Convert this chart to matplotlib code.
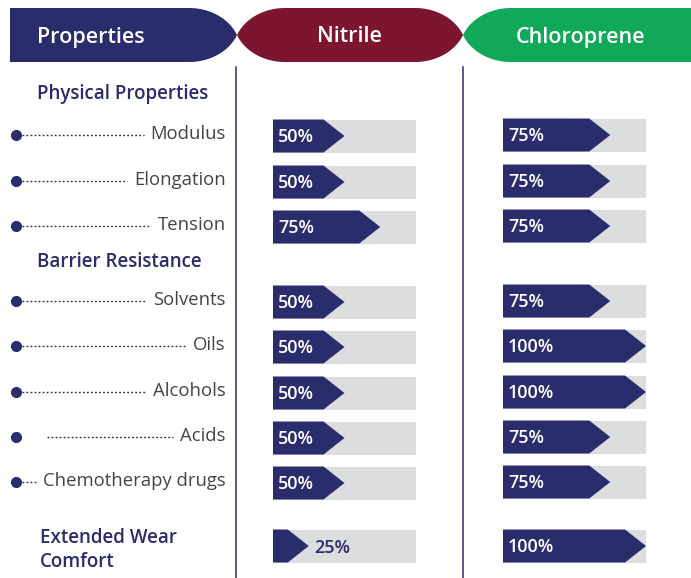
# Nitrile vs Chloroprene property comparison

import numpy as np
import matplotlib.pyplot as plt
from matplotlib.patches import Polygon, Rectangle

plt.rcParams['font.family'] = ['Open Sans', 'DejaVu Sans']

# data
properties = ['Modulus', 'Elongation', 'Tension', 'Solvents', 'Oils',
              'Alcohols', 'Acids', 'Chemotherapy drugs', 'Extended Wear\nComfort']
nitrile = [50, 50, 75, 50, 50, 50, 50, 50, 25]
chloroprene = [75, 75, 75, 75, 100, 100, 75, 75, 100]
section_titles = ['Physical Properties', 'Barrier Resistance']
headers = ['Properties', 'Nitrile', 'Chloroprene']

# layout (pixel units)
row_y = [135, 181, 226, 301, 346, 392, 437, 482, 550]
section_y = [94, 262]
leader_start = [22, 22, 22, 22, 22, 22, 47, 22]
bar_left = [273, 503]
bar_w = 143
bar_h = 33
tip = 21

navy = '#2a2d6b'
maroon = '#7b1530'
green = '#11a85a'
gray = '#dcdddf'
txt = '#444444'

fig = plt.figure(figsize=(6.91, 5.78), dpi=100)
ax = fig.add_axes([0, 0, 1, 1])
ax.set_xlim(0, 691)
ax.set_ylim(578, 0)
ax.axis('off')


# header banners
def edge(x_flat, x_pt, top, mid, n=40):
    t = np.linspace(0, 1, n)
    a = 0.93
    off = (np.sqrt(1 - (a * t) ** 2) - np.sqrt(1 - a ** 2)) / (1 - np.sqrt(1 - a ** 2))
    xs = x_flat + (x_pt - x_flat) * t
    return xs, mid - (mid - top) * off


top, bot, mid = 8, 62, 35
cw = 48
xs, ys = edge(237 - cw, 237, top, mid)
blue_pts = [(10, top)] + list(zip(xs, ys)) + list(zip(xs[::-1], 2 * mid - ys[::-1])) + [(10, bot)]
ax.add_patch(Polygon(blue_pts, closed=True, color=navy, lw=0))

xl, yl = edge(237 + cw, 237, top, mid)
xr, yr = edge(463 - cw, 463, top, mid)
red_pts = (list(zip(xl[::-1], yl[::-1])) + list(zip(xr, yr)) +
           list(zip(xr[::-1], 2 * mid - yr[::-1])) + list(zip(xl, 2 * mid - yl)))
ax.add_patch(Polygon(red_pts, closed=True, color=maroon, lw=0))

xg, yg = edge(463 + cw, 463, top, mid)
green_pts = list(zip(xg[::-1], yg[::-1])) + [(691, top), (691, bot)] + list(zip(xg, 2 * mid - yg))
ax.add_patch(Polygon(green_pts, closed=True, color=green, lw=0))

ax.text(37, mid + 2, headers[0], color='white', fontsize=15.5, fontweight='semibold', va='center', ha='left')
ax.text(349, mid + 2, headers[1], color='white', fontsize=15.5, fontweight='semibold', va='center', ha='center')
ax.text(581, mid + 2, headers[2], color='white', fontsize=15.5, fontweight='semibold', va='center', ha='center')

# column separators
for x in [236, 463]:
    ax.plot([x, x], [67, 578], color=navy, lw=1.1)

# section titles
for s, y in zip(section_titles, section_y):
    ax.text(37, y, s, color=navy, fontsize=13.5, fontweight='semibold', va='center', ha='left')
ax.text(40, row_y[-1], properties[-1], color=navy, fontsize=13.5, fontweight='semibold',
        va='center', ha='left', linespacing=1.3)

# item labels with dotted leaders
fig.canvas.draw()
r = fig.canvas.get_renderer()
inv = ax.transData.inverted()
for i, name in enumerate(properties[:-1]):
    y = row_y[i]
    t = ax.text(226, y - 1, name, color=txt, fontsize=13.3, fontweight='normal', va='center', ha='right')
    bb = t.get_window_extent(renderer=r)
    x_txt = inv.transform((bb.x0, bb.y0))[0]
    ax.plot([leader_start[i], x_txt - 7], [y, y], color=navy, lw=1, ls=(0, (1.3, 1.6)))
    ax.plot(16, y, 'o', color=navy, ms=7)


# arrow bars
def arrow_bar(x0, y, val):
    y0, y1 = y - bar_h / 2, y + bar_h / 2
    ax.add_patch(Rectangle((x0, y0), bar_w, bar_h, color=gray, lw=0))
    xt = x0 + bar_w * val / 100
    xb = xt - tip
    ax.add_patch(Polygon([(x0, y0), (xb, y0), (xt, y), (xb, y1), (x0, y1)], closed=True, color=navy, lw=0))
    if val < 40:
        ax.text(xt + 6, y + 2, f'{val}%', color=navy, fontsize=13, fontweight='semibold', va='center', ha='left')
    else:
        ax.text(x0 + 5, y + 1, f'{val}%', color='white', fontsize=13, fontweight='semibold', va='center', ha='left')


for i in range(len(properties) - 1):
    arrow_bar(bar_left[0], row_y[i] + 1, nitrile[i])
    arrow_bar(bar_left[1], row_y[i], chloroprene[i])
arrow_bar(bar_left[0], 546, nitrile[-1])
arrow_bar(bar_left[1], 546, chloroprene[-1])

fig.savefig('out.png', dpi=100)
